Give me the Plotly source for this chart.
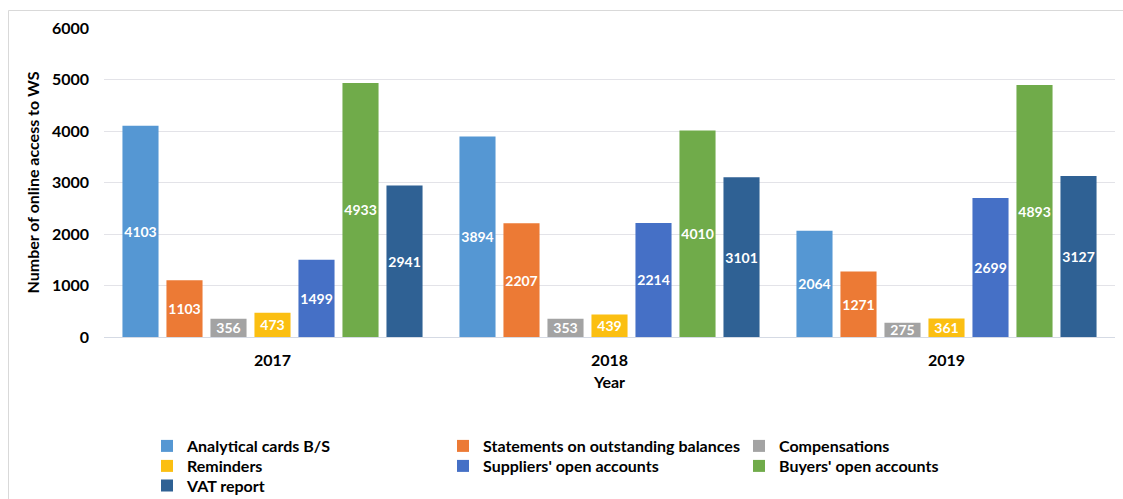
import plotly.graph_objects as go

# Yearly online access counts per web-service module
years = ["2017", "2018", "2019"]

analytical_cards = [4103, 3894, 2064]
statements = [1103, 2207, 1271]
compensations = [356, 353, 275]
reminders = [473, 439, 361]
suppliers = [1499, 2214, 2699]
buyers = [4933, 4010, 4893]
vat_report = [2941, 3101, 3127]

series_names = [
    "Analytical cards B/S",
    "Statements on outstanding balances",
    "Compensations",
    "Reminders",
    "Suppliers' open accounts",
    "Buyers' open accounts",
    "VAT report",
]
series_values = [analytical_cards, statements, compensations, reminders,
                 suppliers, buyers, vat_report]
series_colors = ["#5597d3", "#ec7a35", "#a3a3a3", "#fbbf12",
                 "#4570c6", "#70ab4a", "#2f6194"]
# legend rows: three entries per row, laid out like the Office legend
series_legend = ["legend", "legend", "legend",
                 "legend2", "legend2", "legend2",
                 "legend3"]

FONT = "Lato"
W, H = 1123, 499
M_L, M_R, M_T, M_B = 104, 8, 28, 162
plot_w = W - M_L - M_R
plot_h = H - M_T - M_B


def px_to_paper_x(px):
    return (px - M_L) / plot_w


def px_to_paper_y(py):
    return (H - M_B - py) / plot_h


fig = go.Figure()
for name, vals, col, leg in zip(series_names, series_values, series_colors, series_legend):
    fig.add_trace(go.Bar(
        name=name,
        x=years,
        y=vals,
        marker=dict(color=col, line=dict(width=0)),
        text=vals,
        texttemplate="%{y}",
        textposition="inside",
        insidetextanchor="middle",
        textangle=0,
        constraintext="none",
        textfont=dict(family=FONT, size=14, color="white", weight="bold"),
        legend=leg,
        hoverinfo="x+y+name",
    ))

legend_common = dict(
    orientation="h",
    x=px_to_paper_x(147),
    xanchor="left",
    yanchor="middle",
    entrywidth=251,
    entrywidthmode="pixels",
    bgcolor="rgba(0,0,0,0)",
    borderwidth=0,
    font=dict(family=FONT, size=16, color="#000000", weight="bold"),
    itemclick=False,
    itemdoubleclick=False,
)

fig.update_layout(
    width=W,
    height=H,
    margin=dict(l=M_L, r=M_R, t=M_T, b=M_B, autoexpand=False),
    paper_bgcolor="white",
    plot_bgcolor="white",
    barmode="group",
    bargap=0.086,
    bargroupgap=0.18,
    font=dict(family=FONT, color="#000000"),
    legend=dict(legend_common, y=px_to_paper_y(446)),
    legend2=dict(legend_common, y=px_to_paper_y(466)),
    legend3=dict(legend_common, y=px_to_paper_y(485.5)),
    xaxis=dict(
        type="category",
        showgrid=False,
        showline=False,
        ticks="",
        tickfont=dict(family=FONT, size=16, color="#000000", weight="bold"),
        ticklabelstandoff=12,
        title=dict(text="Year", standoff=8,
                   font=dict(family=FONT, size=16, color="#000000", weight="bold")),
        automargin=False,
    ),
    yaxis=dict(
        range=[0, 6000],
        dtick=1000,
        tick0=0,
        showgrid=True,
        gridcolor="#e3e3e8",
        gridwidth=1,
        zeroline=True,
        zerolinecolor="#d5dae4",
        zerolinewidth=1,
        showline=False,
        ticks="",
        tickformat="d",
        tickfont=dict(family=FONT, size=16, color="#000000", weight="bold"),
        ticklabelstandoff=14,
        title=dict(text="Number of online access to WS", standoff=8,
                   font=dict(family=FONT, size=16, color="#000000", weight="bold")),
        automargin=False,
    ),
    shapes=[
        # chart-area frame
        dict(type="rect", xref="paper", yref="paper",
             x0=px_to_paper_x(8.5), x1=px_to_paper_x(1135),
             y0=px_to_paper_y(520), y1=px_to_paper_y(10.5),
             line=dict(color="#d9d9d9", width=1),
             fillcolor="rgba(0,0,0,0)", layer="below"),
    ],
)

fig.write_html("out.html")
